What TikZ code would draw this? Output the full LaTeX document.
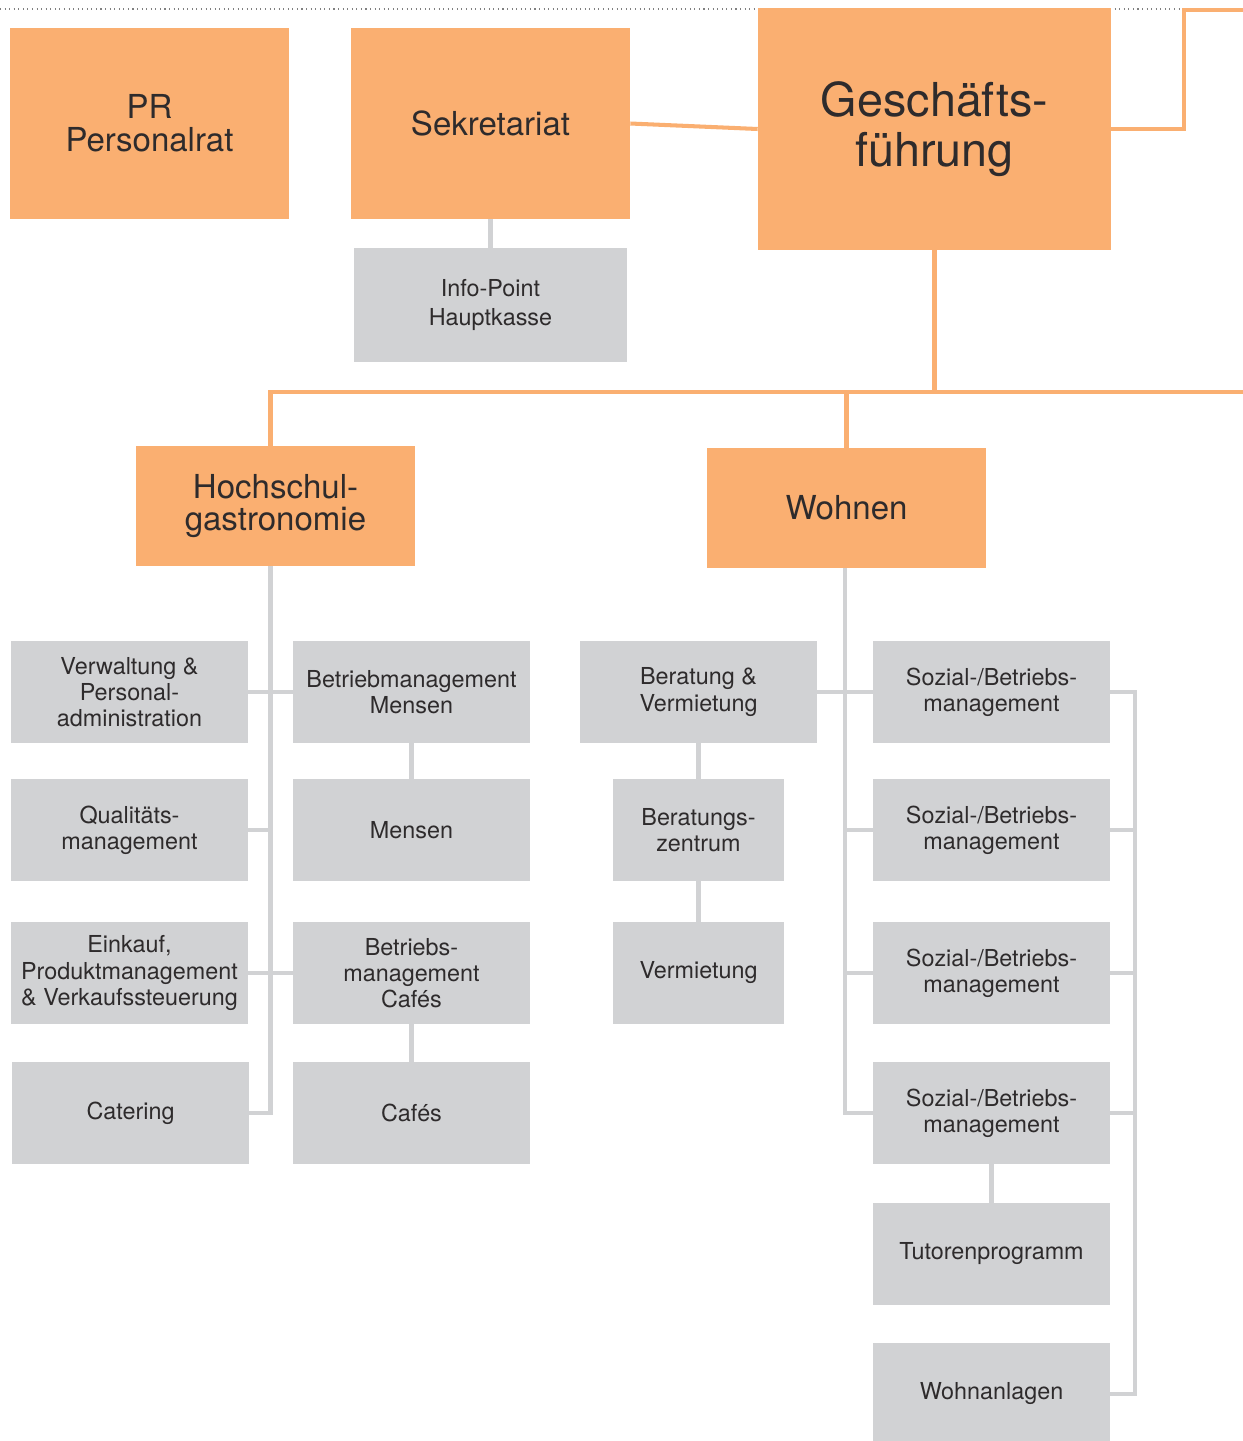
\documentclass[tikz,border=0pt]{standalone}
\usepackage{fontspec}
\setmainfont{TeX Gyre Heros}
\usetikzlibrary{calc}
\definecolor{boxorange}{HTML}{FAAF71}
\definecolor{boxgray}{HTML}{D1D2D4}
\definecolor{txt}{HTML}{2E2B2C}

\begin{document}
\begin{tikzpicture}[x=0.02cm, y=-0.02cm,
    obox/.style={fill=boxorange, text=txt, align=center, inner sep=0pt, minimum width=5.58cm},
    gbox/.style={fill=boxgray, text=txt, align=center, inner sep=0pt, minimum width=4.74cm, minimum height=2.04cm, font=\fontsize{13.3pt}{14.9pt}\selectfont},
    midtext/.style={font=\fontsize{18.8pt}{18.7pt}\selectfont},
    oline/.style={boxorange, line width=2.3pt},
    gline/.style={boxgray, line width=2.3pt}]
    \useasboundingbox (0,0) rectangle (1243,1441);

    % 顶部虚线
    \draw[gray, line width=0.6pt, dotted] (0,9) -- (1243,9);

    % 橙色框
    \node[obox, minimum height=3.82cm, midtext] (pr) at (149.5,123.5) {PR\\Personalrat};
    \node[obox, minimum height=3.82cm, midtext] (sek) at (490.5,123.5) {Sekretariat};
    \node[obox, minimum width=7.06cm, minimum height=4.84cm, font=\fontsize{26.6pt}{28.3pt}\selectfont] (gf) at (934.5,129) {Geschäfts-\\führung};
    \node[obox, minimum height=2.4cm, midtext] (hg) at (275.5,506) {Hochschul-\\gastronomie};
    \node[obox, minimum height=2.4cm, midtext] (wo) at (846.5,508) {Wohnen};

    % 灰色框
    \node[gbox, minimum width=5.46cm, minimum height=2.28cm, font=\fontsize{13.3pt}{17pt}\selectfont] (info) at (490.5,305) {Info-Point\\Hauptkasse};

    \node[gbox] (verw) at (129.5,692) {Verwaltung \&\\Personal-\\administration};
    \node[gbox] (qm) at (129.5,830) {Qualitäts-\\management};
    \node[gbox] (eink) at (129.5,973) {Einkauf,\\Produktmanagement\\\& Verkaufssteuerung};
    \node[gbox] (cat) at (130.5,1113) {Catering};

    \node[gbox] (bmm) at (411.5,692) {Betriebmanagement\\Mensen};
    \node[gbox] (mensen) at (411.5,830) {Mensen};
    \node[gbox] (bmc) at (411.5,973) {Betriebs-\\management\\Cafés};
    \node[gbox] (cafes) at (411.5,1113) {Cafés};

    \node[gbox] (bv) at (698.5,692) {Beratung \&\\Vermietung};
    \node[gbox, minimum width=3.42cm] (bz) at (698.5,830) {Beratungs-\\zentrum};
    \node[gbox, minimum width=3.42cm] (verm) at (698.5,973) {Vermietung};

    \foreach \i/\y in {1/692,2/830,3/973,4/1113}
        \node[gbox] (soz\i) at (991.5,\y) {Sozial-/Betriebs-\\management};
    \node[gbox] (tut) at (991.5,1254) {Tutorenprogramm};
    \node[gbox] (wa) at (991.5,1394) {Wohnanlagen};

    % 橙色连线
    \coordinate (busL) at (270.5,392);
    \coordinate (busR) at (1243,392);
    \coordinate (topR) at (1243,10);
    \draw[oline] (sek.east) -- (gf.west);
    \draw[oline] (gf.east) -- ++(73,0) |- (topR);
    \draw[oline] (gf.south) -- (gf.south |- busL);
    \draw[oline] (busR) -- (busL) -- (busL |- hg.north);
    \draw[oline] (wo.north |- busL) -- (wo.north);

    % 灰色连线 (Hochschulgastronomie)
    \coordinate (hs) at ($(verw.east)!0.5!(bmm.west)$);
    \draw[gline] (sek.south) -- (info.north);
    \draw[gline] (cat.east) -- (hs |- cat.east) -- (hs |- hg.south);
    \draw[gline] (verw.east) -- (bmm.west);
    \draw[gline] (qm.east) -- (hs |- qm.east);
    \draw[gline] (eink.east) -- (bmc.west);
    \draw[gline] (bmm.south) -- (mensen.north);
    \draw[gline] (bmc.south) -- (cafes.north);

    % 灰色连线 (Wohnen)
    \coordinate (ws) at ($(bv.east)!0.5!(soz1.west)$);
    \coordinate (br) at (1135,692);
    \draw[gline] (soz4.west) -- (ws |- soz4.west) -- (ws |- wo.south);
    \draw[gline] (bv.east) -- (soz1.west);
    \foreach \i in {2,3}
        \draw[gline] (ws |- soz\i.west) -- (soz\i.west);
    \draw[gline] (bv.south) -- (bz.north);
    \draw[gline] (bz.south) -- (verm.north);
    \draw[gline] (soz4.south) -- (tut.north);
    \draw[gline] (soz1.east) -- (br |- soz1.east) -- (br |- wa.east) -- (wa.east);
    \foreach \i in {2,3,4}
        \draw[gline] (soz\i.east) -- (br |- soz\i.east);
\end{tikzpicture}
\end{document}
